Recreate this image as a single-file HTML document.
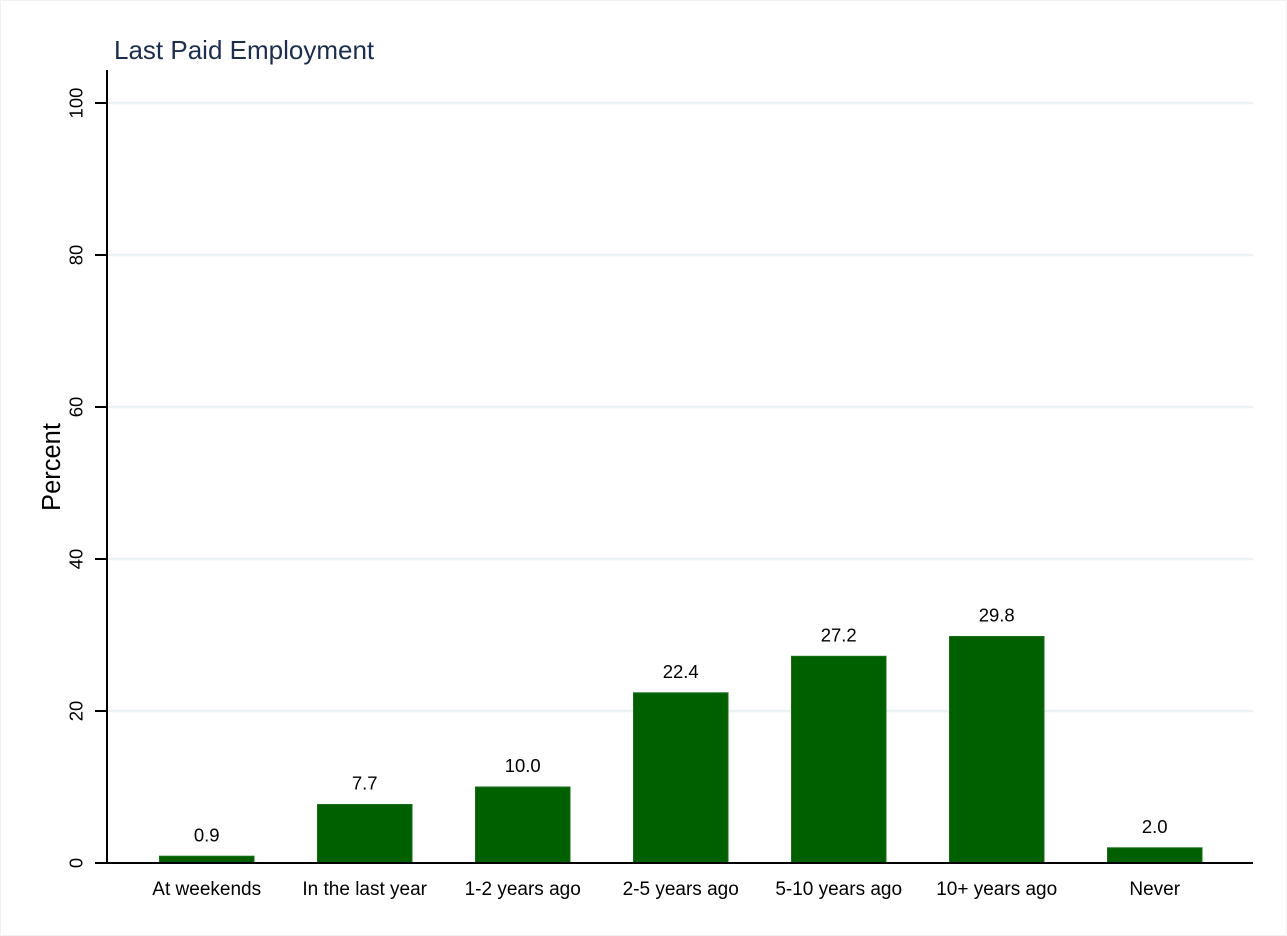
<!DOCTYPE html>
<html>
<head>
<meta charset="utf-8">
<style>
  html, body { margin: 0; padding: 0; background: #ffffff; }
  body { width: 1287px; height: 936px; overflow: hidden; }
  svg { display: block; }
  text { font-family: "Liberation Sans", Arial, sans-serif; }
</style>
</head>
<body>
<svg width="1287" height="936" viewBox="0 0 1287 936" xmlns="http://www.w3.org/2000/svg">
  <rect x="0" y="0" width="1287" height="936" fill="#ffffff"/>
  <rect x="0.5" y="0.5" width="1286" height="935" fill="none" stroke="#f2f2f2" stroke-width="1"/>

  <!-- Title -->
  <text x="114" y="59" font-size="26" fill="#1c2d4e">Last Paid Employment</text>

  <!-- Gridlines -->
  <g stroke="#eaf2f3" stroke-width="2.5">
    <line x1="108" y1="103" x2="1253" y2="103"/>
    <line x1="108" y1="255" x2="1253" y2="255"/>
    <line x1="108" y1="407" x2="1253" y2="407"/>
    <line x1="108" y1="559" x2="1253" y2="559"/>
    <line x1="108" y1="711" x2="1253" y2="711"/>
  </g>

  <!-- Bars -->
  <g fill="#006000" stroke="#1a6e1a" stroke-width="1">
    <rect x="159.5" y="856.2" width="94.5" height="6.8"/>
    <rect x="317.5" y="804.5" width="94.5" height="58.5"/>
    <rect x="475.5" y="787" width="94.5" height="76"/>
    <rect x="633.5" y="692.8" width="94.5" height="170.2"/>
    <rect x="791.5" y="656.3" width="94.5" height="206.7"/>
    <rect x="949.5" y="636.5" width="94.5" height="226.5"/>
    <rect x="1107.5" y="847.8" width="94.5" height="15.2"/>
  </g>

  <!-- Value labels -->
  <g font-size="18.5" fill="#000000" text-anchor="middle">
    <text x="206.7" y="841.5">0.9</text>
    <text x="364.7" y="789.5">7.7</text>
    <text x="522.7" y="772">10.0</text>
    <text x="680.7" y="678">22.4</text>
    <text x="838.7" y="641.5">27.2</text>
    <text x="996.7" y="621.5">29.8</text>
    <text x="1154.7" y="833">2.0</text>
  </g>

  <!-- Axes -->
  <line x1="107" y1="70" x2="107" y2="864" stroke="#000000" stroke-width="2"/>
  <line x1="106" y1="863" x2="1253" y2="863" stroke="#000000" stroke-width="2"/>

  <!-- Y ticks -->
  <g stroke="#000000" stroke-width="2">
    <line x1="95" y1="103" x2="107" y2="103"/>
    <line x1="95" y1="255" x2="107" y2="255"/>
    <line x1="95" y1="407" x2="107" y2="407"/>
    <line x1="95" y1="559" x2="107" y2="559"/>
    <line x1="95" y1="711" x2="107" y2="711"/>
    <line x1="95" y1="863" x2="107" y2="863"/>
  </g>

  <!-- Y tick labels -->
  <g font-size="18.5" fill="#000000" text-anchor="middle">
    <text transform="translate(82.5,103) rotate(-90)">100</text>
    <text transform="translate(82.5,255) rotate(-90)">80</text>
    <text transform="translate(82.5,407) rotate(-90)">60</text>
    <text transform="translate(82.5,559) rotate(-90)">40</text>
    <text transform="translate(82.5,711) rotate(-90)">20</text>
    <text transform="translate(82.5,863) rotate(-90)">0</text>
  </g>

  <!-- Y axis title -->
  <text transform="translate(60,467) rotate(-90)" font-size="25.5" fill="#000000" text-anchor="middle">Percent</text>

  <!-- X labels -->
  <g font-size="19" fill="#000000" text-anchor="middle">
    <text x="206.7" y="895">At weekends</text>
    <text x="364.7" y="895">In the last year</text>
    <text x="522.7" y="895">1-2 years ago</text>
    <text x="680.7" y="895">2-5 years ago</text>
    <text x="838.7" y="895">5-10 years ago</text>
    <text x="996.7" y="895">10+ years ago</text>
    <text x="1154.7" y="895">Never</text>
  </g>
</svg>
</body>
</html>
